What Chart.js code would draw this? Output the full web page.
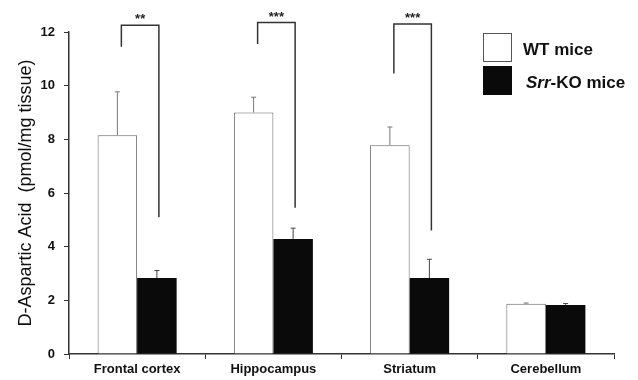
<!DOCTYPE html>
<html>
<head>
<meta charset="utf-8">
<script src="https://cdn.jsdelivr.net/npm/chart.js@4.4.7/dist/chart.umd.min.js"></script>
<style>
  html, body { margin: 0; padding: 0; background: #fff; }
  #wrap { width: 638px; height: 380px; position: relative; }
</style>
</head>
<body>
<div id="wrap"><canvas id="c"></canvas></div>
<script>
const categories = ['Frontal cortex', 'Hippocampus', 'Striatum', 'Cerebellum'];
const wtMean = [8.15, 9.0, 7.78, 1.87];
const wtErr = [1.62, 0.57, 0.68, 0.03];
const koMean = [2.83, 4.29, 2.83, 1.83];
const koErr = [0.28, 0.4, 0.7, 0.05];
const yTicks = [0, 2, 4, 6, 8, 10, 12];

// significance brackets (category index, stars, left leg bottom, right leg bottom, top)
const sigCats = [0, 1, 2];
const sigStars = ['**', '***', '***'];
const sigLeftLow = [11.45, 11.55, 10.45];
const sigRightLow = [5.1, 5.45, 4.6];
const sigTop = [12.25, 12.35, 12.3];

const FONT = '"Liberation Sans", Arial, sans-serif';

const extras = {
  id: 'extras',
  afterDatasetsDraw(chart) {
    const ctx = chart.ctx;
    const y = chart.scales.y;
    const metas = [chart.getDatasetMeta(0), chart.getDatasetMeta(1)];
    const errs = [wtErr, koErr];
    const means = [wtMean, koMean];
    ctx.save();
    // error bars (upper only)
    metas.forEach((meta, d) => {
      meta.data.forEach((bar, i) => {
        const top = y.getPixelForValue(means[d][i] + errs[d][i]);
        ctx.strokeStyle = d === 0 ? '#777' : '#444';
        ctx.lineWidth = 1;
        ctx.beginPath();
        ctx.moveTo(bar.x, bar.y);
        ctx.lineTo(bar.x, top);
        ctx.moveTo(bar.x - 2.5, top);
        ctx.lineTo(bar.x + 2.5, top);
        ctx.stroke();
      });
    });
    // brackets
    ctx.strokeStyle = '#333';
    ctx.lineWidth = 1.5;
    sigCats.forEach((c, k) => {
      const xl = metas[0].data[c].x + 4;
      const xr = metas[1].data[c].x + 2;
      const yt = y.getPixelForValue(sigTop[k]);
      ctx.beginPath();
      ctx.moveTo(xl, y.getPixelForValue(sigLeftLow[k]));
      ctx.lineTo(xl, yt);
      ctx.lineTo(xr, yt);
      ctx.lineTo(xr, y.getPixelForValue(sigRightLow[k]));
      ctx.stroke();
      ctx.fillStyle = '#222';
      ctx.font = 'bold 13px ' + FONT;
      ctx.textAlign = 'center';
      ctx.textBaseline = 'alphabetic';
      ctx.fillText(sigStars[k], (xl + xr) / 2, yt - 2);
    });
    // legend
    const lx = 483, ly = 33;
    ctx.lineWidth = 1;
    ctx.strokeStyle = '#555';
    ctx.fillStyle = '#fff';
    ctx.fillRect(lx, ly, 29, 29);
    ctx.strokeRect(lx + 0.5, ly + 0.5, 28, 28);
    ctx.fillStyle = '#0a0a0a';
    ctx.fillRect(lx, ly + 33, 29, 29);
    ctx.fillStyle = '#111';
    ctx.textAlign = 'left';
    ctx.textBaseline = 'middle';
    ctx.font = 'bold 17px ' + FONT;
    ctx.fillText('WT mice', 523, ly + 17);
    ctx.font = 'italic bold 17px ' + FONT;
    ctx.fillText('Srr', 526, ly + 50);
    const w = ctx.measureText('Srr').width;
    ctx.font = 'bold 17px ' + FONT;
    ctx.fillText('-KO mice', 526 + w, ly + 50);
    ctx.restore();
  }
};

new Chart(document.getElementById('c'), {
  type: 'bar',
  data: {
    labels: categories,
    datasets: [
      {
        label: 'WT mice',
        data: wtMean,
        backgroundColor: '#ffffff',
        borderColor: '#666',
        borderWidth: 1,
        barPercentage: 1.0,
        categoryPercentage: 0.58
      },
      {
        label: 'Srr-KO mice',
        data: koMean,
        backgroundColor: '#0a0a0a',
        borderColor: '#0a0a0a',
        borderWidth: 0,
        barPercentage: 1.0,
        categoryPercentage: 0.58
      }
    ]
  },
  options: {
    responsive: true,
    maintainAspectRatio: false,
    animation: false,
    layout: { padding: { top: 32, right: 24, left: 0, bottom: 0 } },
    plugins: { legend: { display: false }, tooltip: { enabled: false } },
    scales: {
      x: {
        grid: { drawOnChartArea: false, offset: true, tickLength: 5, color: '#333' },
        border: { color: '#333', width: 1.5 },
        ticks: { color: '#111', font: { family: FONT, size: 13, weight: 'bold' }, padding: 3 },
        afterFit(s) { s.height = 26; }
      },
      y: {
        min: 0,
        max: 12,
        afterBuildTicks(s) { s.ticks = yTicks.map(v => ({ value: v })); },
        grid: { drawOnChartArea: false, tickLength: 5, color: '#333' },
        border: { color: '#333', width: 1.5 },
        ticks: { color: '#111', font: { family: FONT, size: 13, weight: 'bold' }, padding: 9 },
        title: {
          display: true,
          text: 'D-Aspartic Acid  (pmol/mg tissue)',
          color: '#111',
          font: { family: FONT, size: 18 },
          padding: { top: 15, bottom: 0 }
        },
        afterFit(s) { s.width = 69; }
      }
    }
  },
  plugins: [extras]
});
</script>
</body>
</html>
